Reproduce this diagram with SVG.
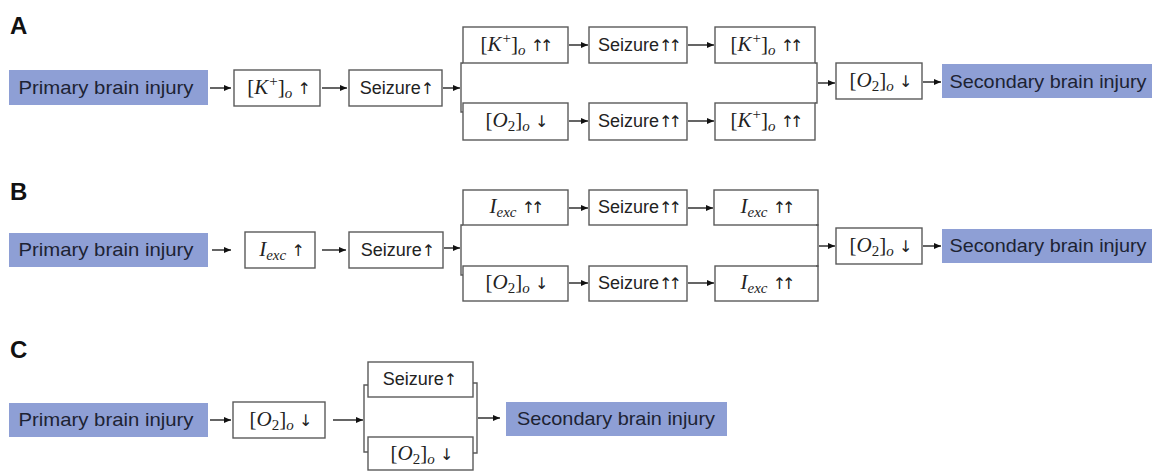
<svg xmlns="http://www.w3.org/2000/svg" width="1158" height="472" viewBox="0 0 1158 472">
<defs>
<marker id="ah" markerUnits="userSpaceOnUse" markerWidth="7" markerHeight="6" refX="7" refY="3" orient="auto">
<path d="M0,0 L7,3 L0,6 z" fill="#111"/>
</marker>
<style>
.blue{fill:#8e9fd5;stroke:none}
.box{fill:#fff;stroke:#5a5a5a;stroke-width:1.4}
.bt{font-family:"Liberation Sans",Arial,sans-serif;font-size:19px;fill:#1d2333;text-anchor:middle}
.st{font-family:"Liberation Sans",Arial,sans-serif;font-size:18px;fill:#222;text-anchor:middle}
.m{font-family:"Liberation Serif","Times New Roman",serif;font-size:21px;fill:#222;text-anchor:middle}
.i{font-style:italic}
.ar{font-family:"DejaVu Sans",sans-serif;font-size:16px;letter-spacing:-4px;fill:#222}
.lab{font-family:"Liberation Sans",Arial,sans-serif;font-size:24px;font-weight:bold;fill:#111}
.c{stroke:#111;stroke-width:1.3;fill:none}
.a{marker-end:url(#ah)}
.br{stroke:#5a5a5a;stroke-width:1.4;fill:none}
</style>
</defs>
<rect width="1158" height="472" fill="#fff"/>

<text class="lab" x="10" y="34">A</text>
<text class="lab" x="10" y="200">B</text>
<text class="lab" x="10" y="358">C</text>

<!-- Panel A -->
<g id="a-primary"><rect class="blue" x="9" y="70" width="199" height="35"/><text class="bt" x="106" y="94" textLength="175" lengthAdjust="spacingAndGlyphs">Primary brain injury</text></g>
<g id="a-k1"><rect class="box" x="234" y="70" width="86" height="36"/><text class="m" x="277" y="94">[<tspan class="i">K</tspan><tspan dx="1" dy="-8" font-size="15">+</tspan><tspan dy="8">]</tspan><tspan dy="4" class="i" font-size="15">o</tspan><tspan dy="-4"> </tspan><tspan class="ar">↑</tspan></text></g>
<g id="a-seiz1"><rect class="box" x="349" y="70" width="93" height="36"/><text class="st" x="395" y="94">Seizure<tspan class="ar">↑</tspan></text></g>
<g id="a-t1"><rect class="box" x="463" y="27" width="105" height="36"/><text class="m" x="515" y="51">[<tspan class="i">K</tspan><tspan dx="1" dy="-8" font-size="15">+</tspan><tspan dy="8">]</tspan><tspan dy="4" class="i" font-size="15">o</tspan><tspan dy="-4"> </tspan><tspan class="ar">↑↑</tspan></text></g>
<g id="a-t2"><rect class="box" x="589" y="27" width="98" height="36"/><text class="st" x="638" y="51">Seizure<tspan class="ar">↑↑</tspan></text></g>
<g id="a-t3"><rect class="box" x="715" y="27" width="100" height="36"/><text class="m" x="765" y="51">[<tspan class="i">K</tspan><tspan dx="1" dy="-8" font-size="15">+</tspan><tspan dy="8">]</tspan><tspan dy="4" class="i" font-size="15">o</tspan><tspan dy="-4"> </tspan><tspan class="ar">↑↑</tspan></text></g>
<g id="a-b1"><rect class="box" x="463" y="103" width="105" height="37"/><text class="m" x="515" y="127">[<tspan class="i">O</tspan><tspan dy="4" font-size="15">2</tspan><tspan dy="-4">]</tspan><tspan dy="4" class="i" font-size="15">o</tspan><tspan dy="-4"> </tspan><tspan class="ar">↓</tspan></text></g>
<g id="a-b2"><rect class="box" x="589" y="103" width="98" height="37"/><text class="st" x="638" y="127">Seizure<tspan class="ar">↑↑</tspan></text></g>
<g id="a-b3"><rect class="box" x="715" y="103" width="100" height="37"/><text class="m" x="765" y="127">[<tspan class="i">K</tspan><tspan dx="1" dy="-8" font-size="15">+</tspan><tspan dy="8">]</tspan><tspan dy="4" class="i" font-size="15">o</tspan><tspan dy="-4"> </tspan><tspan class="ar">↑↑</tspan></text></g>
<g id="a-o2"><rect class="box" x="836" y="63" width="86" height="36"/><text class="m" x="879" y="87">[<tspan class="i">O</tspan><tspan dy="4" font-size="15">2</tspan><tspan dy="-4">]</tspan><tspan dy="4" class="i" font-size="15">o</tspan><tspan dy="-4"> </tspan><tspan class="ar">↓</tspan></text></g>
<g id="a-secondary"><rect class="blue" x="942" y="64" width="210" height="34"/><text class="bt" x="1048" y="88" textLength="197" lengthAdjust="spacingAndGlyphs">Secondary brain injury</text></g>

<!-- Panel B -->
<g id="b-primary"><rect class="blue" x="9" y="233" width="199" height="34"/><text class="bt" x="106" y="256" textLength="175" lengthAdjust="spacingAndGlyphs">Primary brain injury</text></g>
<g id="b-i1"><rect class="box" x="245" y="232" width="70" height="36"/><text class="m" x="280" y="256"><tspan class="i">I</tspan><tspan dy="4" class="i" font-size="15">exc</tspan><tspan dy="-4"> </tspan><tspan class="ar">↑</tspan></text></g>
<g id="b-seiz1"><rect class="box" x="349" y="232" width="94" height="36"/><text class="st" x="396" y="256">Seizure<tspan class="ar">↑</tspan></text></g>
<g id="b-t1"><rect class="box" x="463" y="190" width="105" height="35"/><text class="m" x="515" y="213"><tspan class="i">I</tspan><tspan dy="4" class="i" font-size="15">exc</tspan><tspan dy="-4"> </tspan><tspan class="ar">↑↑</tspan></text></g>
<g id="b-t2"><rect class="box" x="589" y="190" width="98" height="35"/><text class="st" x="638" y="213">Seizure<tspan class="ar">↑↑</tspan></text></g>
<g id="b-t3"><rect class="box" x="714" y="190" width="104" height="35"/><text class="m" x="766" y="213"><tspan class="i">I</tspan><tspan dy="4" class="i" font-size="15">exc</tspan><tspan dy="-4"> </tspan><tspan class="ar">↑↑</tspan></text></g>
<g id="b-b1"><rect class="box" x="463" y="266" width="105" height="35"/><text class="m" x="515" y="289">[<tspan class="i">O</tspan><tspan dy="4" font-size="15">2</tspan><tspan dy="-4">]</tspan><tspan dy="4" class="i" font-size="15">o</tspan><tspan dy="-4"> </tspan><tspan class="ar">↓</tspan></text></g>
<g id="b-b2"><rect class="box" x="589" y="266" width="98" height="35"/><text class="st" x="638" y="289">Seizure<tspan class="ar">↑↑</tspan></text></g>
<g id="b-b3"><rect class="box" x="715" y="266" width="103" height="35"/><text class="m" x="766" y="289"><tspan class="i">I</tspan><tspan dy="4" class="i" font-size="15">exc</tspan><tspan dy="-4"> </tspan><tspan class="ar">↑↑</tspan></text></g>
<g id="b-o2"><rect class="box" x="836" y="228" width="86" height="36"/><text class="m" x="879" y="252">[<tspan class="i">O</tspan><tspan dy="4" font-size="15">2</tspan><tspan dy="-4">]</tspan><tspan dy="4" class="i" font-size="15">o</tspan><tspan dy="-4"> </tspan><tspan class="ar">↓</tspan></text></g>
<g id="b-secondary"><rect class="blue" x="942" y="229" width="210" height="34"/><text class="bt" x="1048" y="252" textLength="197" lengthAdjust="spacingAndGlyphs">Secondary brain injury</text></g>

<!-- Panel C -->
<g id="c-primary"><rect class="blue" x="9" y="403" width="199" height="34"/><text class="bt" x="106" y="426" textLength="175" lengthAdjust="spacingAndGlyphs">Primary brain injury</text></g>
<g id="c-o2"><rect class="box" x="233" y="402" width="92" height="36"/><text class="m" x="279" y="426">[<tspan class="i">O</tspan><tspan dy="4" font-size="15">2</tspan><tspan dy="-4">]</tspan><tspan dy="4" class="i" font-size="15">o</tspan><tspan dy="-4"> </tspan><tspan class="ar">↓</tspan></text></g>
<g id="c-seiz"><rect class="box" x="368" y="362" width="105" height="35"/><text class="st" x="418" y="385">Seizure<tspan class="ar">↑</tspan></text></g>
<g id="c-o2b"><rect class="box" x="368" y="437" width="105" height="33"/><text class="m" x="420" y="460">[<tspan class="i">O</tspan><tspan dy="4" font-size="15">2</tspan><tspan dy="-4">]</tspan><tspan dy="4" class="i" font-size="15">o</tspan><tspan dy="-4"> </tspan><tspan class="ar">↓</tspan></text></g>
<g id="c-secondary"><rect class="blue" x="506" y="402" width="221" height="34"/><text class="bt" x="616" y="425" textLength="198" lengthAdjust="spacingAndGlyphs">Secondary brain injury</text></g>

<g id="connectors">
<!-- A -->
<line class="c a" x1="210" y1="88" x2="231" y2="88"/>
<line class="c a" x1="322" y1="88" x2="347" y2="88"/>
<line class="c a" x1="443" y1="88" x2="460" y2="88"/>
<path class="br" d="M463,63 H461 V112 H463"/>
<line class="c a" x1="569" y1="45" x2="588" y2="45"/>
<line class="c a" x1="688" y1="45" x2="714" y2="45"/>
<line class="c a" x1="569" y1="121" x2="588" y2="121"/>
<line class="c a" x1="688" y1="121" x2="714" y2="121"/>
<path class="br" d="M815,63 H817 V103 H815"/>
<line class="c a" x1="818" y1="83" x2="835" y2="83"/>
<line class="c a" x1="923" y1="82" x2="941" y2="82"/>
<!-- B -->
<line class="c a" x1="212" y1="250" x2="231" y2="250"/>
<line class="c a" x1="322" y1="250" x2="346" y2="250"/>
<line class="c a" x1="444" y1="248" x2="460" y2="248"/>
<path class="br" d="M463,225 H461 V275 H463"/>
<line class="c a" x1="569" y1="208" x2="588" y2="208"/>
<line class="c a" x1="688" y1="208" x2="713" y2="208"/>
<line class="c a" x1="569" y1="283" x2="588" y2="283"/>
<line class="c a" x1="688" y1="283" x2="714" y2="283"/>
<path class="br" d="M816,225 H818 V266 H816"/>
<line class="c a" x1="819" y1="246" x2="835" y2="246"/>
<line class="c a" x1="923" y1="246" x2="941" y2="246"/>
<!-- C -->
<line class="c a" x1="210" y1="420" x2="231" y2="420"/>
<line class="c a" x1="333" y1="420" x2="363" y2="420"/>
<path class="br" d="M368,385 H364 V452 H368"/>
<path class="br" d="M473,383 H477 V453 H473"/>
<line class="c a" x1="478" y1="418" x2="500" y2="418"/>
</g>
</svg>
